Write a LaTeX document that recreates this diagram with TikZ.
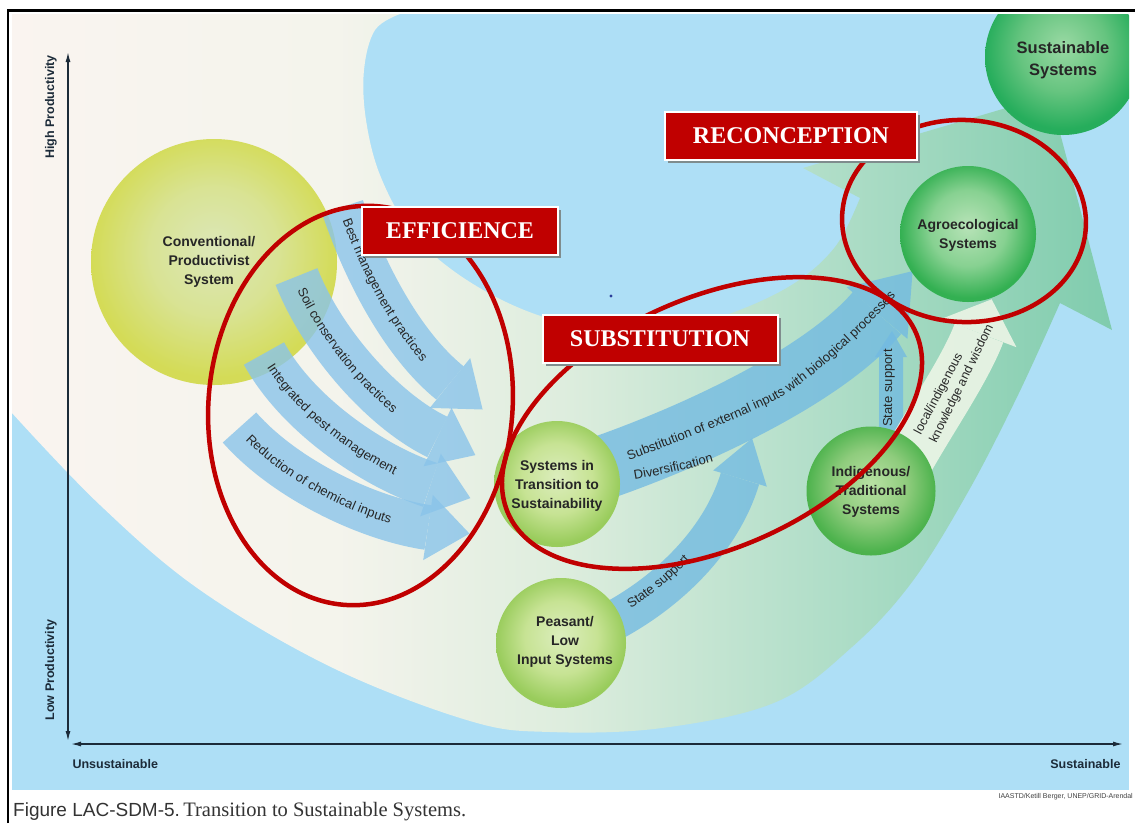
\documentclass[tikz,border=0pt]{standalone}
\usepackage{fontspec}
\setmainfont{Liberation Serif}
\setsansfont{Liberation Sans}
\usetikzlibrary{arrows.meta,decorations.text,shadows}

\definecolor{panelblue}{HTML}{AEDFF6}
\definecolor{arrowblue}{HTML}{8AC4EA}
\definecolor{arrowdeep}{HTML}{72BAE2}
\definecolor{palearrow}{HTML}{ECF5E6}
\definecolor{redline}{HTML}{C00000}
\definecolor{boxred}{HTML}{C00000}
\definecolor{shadowgrey}{HTML}{7F8C8D}
\definecolor{axiscol}{HTML}{1C2B39}
\definecolor{txt}{HTML}{262626}
\definecolor{captext}{HTML}{333333}
\definecolor{dotblue}{HTML}{2A3F9A}

\newcommand\arrfont{\sffamily\fontsize{13}{15}\selectfont}

\pgfdeclarehorizontalshading{crescshade}{100bp}{rgb(0bp)=(0.98,0.955,0.94); rgb(25bp)=(0.98,0.955,0.94); rgb(40bp)=(0.955,0.955,0.925); rgb(50bp)=(0.87,0.93,0.87); rgb(60bp)=(0.72,0.88,0.80); rgb(75bp)=(0.50,0.80,0.68); rgb(100bp)=(0.50,0.80,0.68)}
\pgfdeclareradialshading{convball}{\pgfpoint{0bp}{3bp}}{rgb(0bp)=(0.86,0.905,0.72); rgb(13bp)=(0.85,0.89,0.58); rgb(25bp)=(0.83,0.86,0.34); rgb(50bp)=(0.83,0.86,0.34)}
\pgfdeclareradialshading{ygball}{\pgfpoint{0bp}{3bp}}{rgb(0bp)=(0.86,0.93,0.74); rgb(14bp)=(0.78,0.89,0.58); rgb(25bp)=(0.60,0.80,0.36); rgb(50bp)=(0.60,0.80,0.36)}
\pgfdeclareradialshading{gball}{\pgfpoint{0bp}{3bp}}{rgb(0bp)=(0.72,0.88,0.64); rgb(14bp)=(0.56,0.80,0.49); rgb(25bp)=(0.30,0.70,0.30); rgb(50bp)=(0.30,0.70,0.30)}
\pgfdeclareradialshading{agball}{\pgfpoint{0bp}{3bp}}{rgb(0bp)=(0.72,0.89,0.72); rgb(14bp)=(0.53,0.82,0.57); rgb(25bp)=(0.20,0.69,0.32); rgb(50bp)=(0.20,0.69,0.32)}
\pgfdeclareradialshading{susball}{\pgfpoint{0bp}{4bp}}{rgb(0bp)=(0.60,0.85,0.64); rgb(14bp)=(0.40,0.77,0.50); rgb(25bp)=(0.15,0.68,0.36); rgb(50bp)=(0.15,0.68,0.36)}

\tikzset{
  bandA/.style={draw=arrowblue, line width=#1pt, line cap=butt},
  bandB/.style={draw=arrowdeep, line width=#1pt, line cap=butt},
  bandP/.style={draw=palearrow, line width=#1pt, line cap=butt},
  sysball/.style={circle, inner sep=0pt, draw=none},
  ctext/.style={font=\sffamily\bfseries\fontsize{14}{19}\selectfont, text=txt, align=center},
  alabel/.style={font=\arrfont, text=txt},
  redring/.style={draw=redline, line width=4.5pt},
  tagbox/.style={fill=boxred, draw=white, line width=2pt, text=white,
     font=\fontsize{24}{26}\selectfont\bfseries, minimum height=48pt, inner sep=0pt,
     drop shadow={shadow xshift=3pt, shadow yshift=-3pt, fill=shadowgrey, opacity=1}},
  axisline/.style={draw=axiscol, line width=1.3pt, {Latex[length=10pt,width=5pt]}-{Latex[length=10pt,width=5pt]}},
  axlabel/.style={font=\sffamily\bfseries\fontsize{12.5}{14}\selectfont, text=axiscol}
}

\begin{document}
\begin{tikzpicture}[x=1pt,y=-1pt]
\useasboundingbox (0,0) rectangle (1135,823);
\fill[white] (0,0) rectangle (1135,823);
\fill[panelblue] (12,14) rectangle (1129,790);

\begin{scope}
\clip (12,14) rectangle (1129,790);
% crescent swoosh with big arrow head
\shade[shading=crescshade] (12,14) -- (400,14) -- plot[smooth, tension=0.6] coordinates {(400,14) (375,30) (364,70) (366,120) (380,175) (410,230) (455,272) (517,307) (583,327) (650,331) (720,317) (790,286) (835,247) (860,198)} -- (803,168) -- (1050,95) -- (1112,330) -- (1060,303) -- plot[smooth, tension=0.6] coordinates {(1060,303) (1018,395) (968,492) (912,582) (852,647) (776,702) (662,728) (550,732) (470,721) (333,668) (200,590) (100,505) (12,413)} -- cycle;

% conventional system
\node[sysball, minimum size=246pt, shading=convball] (convC) at (214,262) {};
\node[ctext] (convT) at (209,262) {Conventional/\\Productivist\\System};

% left arrows
\begin{scope}[transparency group, opacity=0.8]
 \draw[bandA=43] (342.5,207) .. controls (365,273.5) and (403,345) .. (450,383);
 \fill[arrowblue] (470.2,358.1) -- (482.6,409.5) -- (429.8,407.9) -- cycle;
\end{scope}
\begin{scope}[transparency group, opacity=0.8]
 \draw[bandA=45] (296.5,276.5) .. controls (322,341.6) and (383.4,411) .. (437.5,437);
 \fill[arrowblue] (451.5,407.7) -- (475.4,455.1) -- (423.5,466.3) -- cycle;
\end{scope}
\begin{scope}[transparency group, opacity=0.8]
 \draw[bandA=46] (264,353.5) .. controls (297.6,414.9) and (373.5,466.3) .. (430.5,485);
 \fill[arrowblue] (440.8,453.65) -- (470.4,498.1) -- (420.2,516.35) -- cycle;
\end{scope}
\begin{scope}[transparency group, opacity=0.8]
 \draw[bandA=45] (239.5,427.5) .. controls (285.8,479.9) and (368.7,518.8) .. (428,527.5);
 \fill[arrowblue] (432.8,494.9) -- (469.5,533.6) -- (423.2,560.1) -- cycle;
\end{scope}

\path[decorate, decoration={text along path, text={|\arrfont|Best management practices}, text align={left indent=13pt}, raise=-4.5pt, text color=txt}] (342.5,207) .. controls (365,273.5) and (403,345) .. (450,383);
\path[decorate, decoration={text along path, text={|\arrfont|Soil conservation practices}, text align={left indent=13pt}, raise=-4.5pt, text color=txt}] (296.5,276.5) .. controls (322,341.6) and (383.4,411) .. (437.5,437);
\path[decorate, decoration={text along path, text={|\arrfont|Integrated pest management}, text align={left indent=13pt}, raise=-4.5pt, text color=txt}] (264,353.5) .. controls (297.6,414.9) and (373.5,466.3) .. (430.5,485);
\path[decorate, decoration={text along path, text={|\arrfont|Reduction of chemical inputs}, text align={left indent=13pt}, raise=-4.5pt, text color=txt}] (239.5,427.5) .. controls (285.8,479.9) and (368.7,518.8) .. (428,527.5);

% right arrows
\begin{scope}[transparency group, opacity=0.78]
 \draw[bandB=64] (590,472) .. controls (680,442) and (820,380) .. (877,313);
 \fill[arrowdeep] (846.6,287.1) -- (912.6,271.1) -- (907.4,338.9) -- cycle;
\end{scope}
\begin{scope}[transparency group, opacity=0.78]
 \draw[bandB=40] (595,630) .. controls (660,600) and (720,545) .. (740,478.5);
 \fill[arrowdeep] (713.2,470.4) -- (752.1,438.3) -- (766.8,486.6) -- cycle;
\end{scope}
\begin{scope}[transparency group, opacity=0.78]
 \draw[bandB=24] (891,452) -- (891,357);
 \fill[arrowdeep] (875,357) -- (892,331) -- (907,357) -- cycle;
\end{scope}
\begin{scope}[transparency group, opacity=0.9]
 \draw[bandP=52] (905,465) .. controls (930,420) and (965,370) .. (979,333);
 \fill[palearrow] (941.6,318.8) -- (991.7,299.3) -- (1016.4,347.2) -- cycle;
\end{scope}

\path[decorate, decoration={text along path, text={|\arrfont|Substitution of external inputs with biological processes}, text align=center, text color=txt}] (616,465) .. controls (680,442) and (740,418) .. (772,402) .. controls (810,383) and (870,325) .. (905,286);
\path[decorate, decoration={text along path, text={|\arrfont|Diversification}, text align=center, text color=txt}] (625,481) .. controls (656,476) and (691,469) .. (723,459);
\path[decorate, decoration={text along path, text={|\arrfont|State support}, text align={left indent=42pt}, raise=2pt, text color=txt}] (595,630) .. controls (660,600) and (720,545) .. (740,478.5);
\node[alabel, rotate=90] (ssI) at (889,388) {State support};
\node[alabel, rotate=62, font=\sffamily\fontsize{12.5}{14}\selectfont] (lk1) at (939,394) {local/indigenous};
\node[alabel, rotate=64, font=\sffamily\fontsize{12.5}{14}\selectfont] (lk2) at (962,384) {knowledge and wisdom};

% other systems
\node[sysball, minimum size=126pt, shading=ygball] (transC) at (557,484) {};
\node[ctext] (transT) at (557,486) {Systems in\\Transition to\\Sustainability};
\node[sysball, minimum size=130pt, shading=ygball] (peasC) at (561,643) {};
\node[ctext] (peasT) at (565,642) {Peasant/\\Low\\Input Systems};
\node[sysball, minimum size=129pt, shading=gball] (indC) at (871,491) {};
\node[ctext] (indT) at (871,492) {Indigenous/\\Traditional\\Systems};
\node[sysball, minimum size=136pt, shading=agball] (agroC) at (968,234) {};
\node[ctext] (agroT) at (968,235) {Agroecological\\Systems};
\node[sysball, minimum size=156pt, shading=susball] (sustC) at (1063,57) {};
\node[ctext, font=\sffamily\bfseries\fontsize{16.5}{22}\selectfont] (sustT) at (1063,60) {Sustainable\\Systems};

\fill[dotblue] (611,296) circle (1.6);

% red rings
\draw[redring, rotate around={-5:(360.5,405.5)}] (360.5,405.5) ellipse [x radius=152, y radius=200];
\draw[redring, rotate around={24:(712,423)}] (712,423) ellipse [x radius=223, y radius=125];
\draw[redring, rotate around={-3:(964,221)}] (964,221) ellipse [x radius=122, y radius=101];
\end{scope}

% frame
\draw[black, line width=2.2pt] (8,823) -- (8,10.5) -- (1135,10.5);

% axes
\coordinate (yT) at (68,52);
\coordinate (yB) at (68,741);
\coordinate (xL) at (71,744);
\coordinate (xR) at (1123,744);
\draw[axisline] (yB) -- (yT);
\draw[axisline] (xL) -- (xR);
\node[axlabel, rotate=90] (hiP) at (51,107) {High Productivity};
\node[axlabel, rotate=90] (loP) at (51,670) {Low Productivity};
\node[axlabel, anchor=west] (unS) at (69,764) {Unsustainable};
\node[axlabel, anchor=east] (suS) at (1124,764) {Sustainable};

% tag boxes
\node[tagbox, minimum width=196pt] (effB) at (460,231) {EFFICIENCE};
\node[tagbox, minimum width=252pt] (recB) at (791,136) {RECONCEPTION};
\node[tagbox, minimum width=235pt] (subB) at (660,339) {SUBSTITUTION};

% caption and credit
\node[anchor=base west, inner sep=0pt, text=captext] (cap) at (13,816) {{\sffamily\fontsize{19}{21}\selectfont Figure LAC-SDM-5.} {\fontsize{20.5}{22}\selectfont Transition to Sustainable Systems.}};
\node[anchor=east, inner sep=0pt, font=\sffamily\fontsize{7}{8}\selectfont, text=black!75] (credit) at (1133,797) {IAASTD/Ketill Berger, UNEP/GRID-Arendal};
\end{tikzpicture}
\end{document}
